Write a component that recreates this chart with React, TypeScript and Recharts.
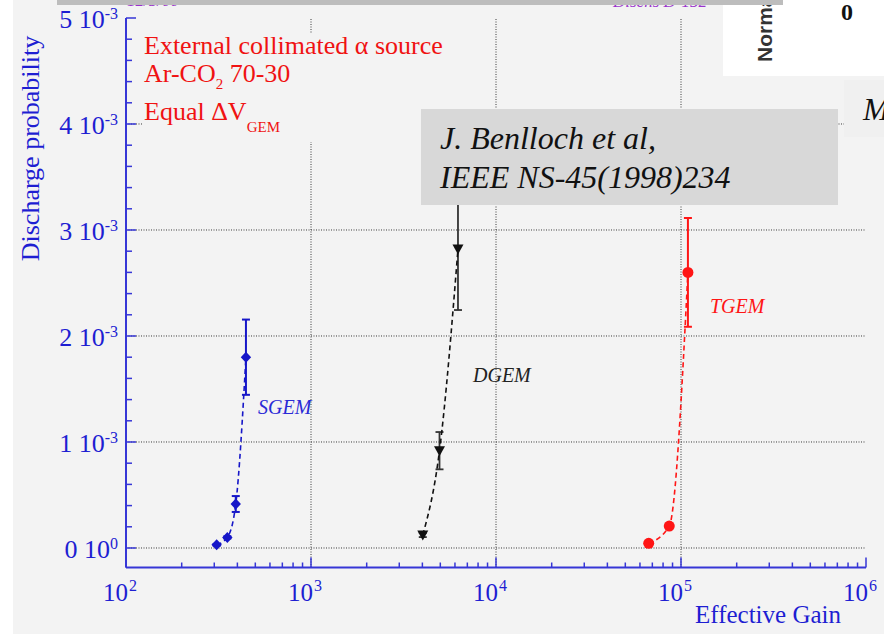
import React from 'react';
import { ComposedChart, Line, XAxis, YAxis, ReferenceLine, ErrorBar } from 'recharts';

// values: effective gain vs discharge probability
const sgemGain = [309, 353, 392, 445];
const sgemProb = [0.00003, 0.0001, 0.000415, 0.0018];
const sgemErr = [0.000008, 0.00001, 0.000075, 0.000355];

const dgemGain = [4020, 4950, 6230];
const dgemProb = [0.000123, 0.000918, 0.00282];
const dgemErr = [0.00002, 0.000176, 0.000575];

const tgemGain = [66900, 86400, 109000];
const tgemProb = [0.000044, 0.000207, 0.0026];
const tgemErr = [0, 0, 0.000513];

const xMajorTicks = [1e2, 1e3, 1e4, 1e5, 1e6];
const xExponents = ['2', '3', '4', '5', '6'];
const xGridLines = [1e3, 1e4, 1e5];

const yMajorTicks = [0, 0.001, 0.002, 0.003, 0.004, 0.005];
const yMantissa = ['0', '1', '2', '3', '4', '5'];
const yExponents = ['0', '-3', '-3', '-3', '-3', '-3'];
const yGridLines = [0, 0.001, 0.002, 0.003, 0.004];

const xTicks = [
  ...xMajorTicks,
  ...xMajorTicks.slice(0, -1).flatMap((d) => [2, 3, 4, 5, 6, 7, 8, 9].map((m) => m * d)),
].sort((a, b) => a - b);
const yTicks = Array.from({ length: 26 }, (_, i) => Number((i * 0.0002).toFixed(4)));

const toPoints = (gain: number[], prob: number[], err: number[]) =>
  gain.map((x, i) => ({ x, y: prob[i], err: err[i] }));

const sgem = toPoints(sgemGain, sgemProb, sgemErr);
const dgem = toPoints(dgemGain, dgemProb, dgemErr);
const tgem = toPoints(tgemGain, tgemProb, tgemErr);

const BG = '#f3f3f3';
const AXIS = '#3636d6';
const TEXT = '#1e1ed2';
const SGEM_C = '#1616c8';
const DGEM_C = '#111111';
const TGEM_C = '#ff1515';
const RED_TXT = '#f01212';
const GRID = '#3a3a3a';
const SERIF = '"Liberation Serif", "Times New Roman", serif';
const SANS = '"Liberation Sans", Arial, sans-serif';

const majorX = (v: number) => xMajorTicks.findIndex((t) => Math.abs(t - v) < 1e-6);
const majorY = (v: number) => yMajorTicks.findIndex((t) => Math.abs(t - v) < 1e-9);

const BottomTick = (props: any) => {
  const { x, y, payload } = props;
  const i = majorX(payload.value);
  return (
    <g>
      <line x1={x} y1={y} x2={x} y2={y - (i >= 0 ? 10 : 5)} stroke={AXIS} strokeWidth={1.5} />
      {i >= 0 && (
        <>
          <text x={x + 2} y={y + 33} textAnchor="end" fill={TEXT} fontSize={25} fontFamily={SERIF}>
            10
          </text>
          <text x={x + 3} y={y + 23} fill={TEXT} fontSize={16} fontFamily={SERIF}>
            {xExponents[i]}
          </text>
        </>
      )}
    </g>
  );
};

const TopTick = (props: any) => {
  const { x, y, payload } = props;
  const i = majorX(payload.value);
  return <line x1={x} y1={y} x2={x} y2={y + (i >= 0 ? 10 : 6)} stroke={AXIS} strokeWidth={1.5} />;
};

const LeftTick = (props: any) => {
  const { x, y, payload } = props;
  const i = majorY(payload.value);
  return (
    <g>
      <line x1={x} y1={y} x2={x + (i >= 0 ? 10 : 6)} y2={y} stroke={AXIS} strokeWidth={1.5} />
      {i >= 0 && (
        <text x={x - 8} y={y + 10} textAnchor="end" fill={TEXT} fontSize={26} fontFamily={SERIF}>
          {yMantissa[i]} 10
          <tspan dy={-9} fontSize={16}>
            {yExponents[i]}
          </tspan>
        </text>
      )}
    </g>
  );
};

const RightTick = (props: any) => {
  const { x, y, payload } = props;
  const i = majorY(payload.value);
  return <line x1={x} y1={y} x2={x - (i >= 0 ? 10 : 5)} y2={y} stroke={AXIS} strokeWidth={1.5} />;
};

const Diamond = (props: any) => {
  const { cx, cy, index } = props;
  return (
    <path
      key={`sg-${index}`}
      d={`M${cx},${cy - 5.5} L${cx + 5.2},${cy} L${cx},${cy + 5.5} L${cx - 5.2},${cy} Z`}
      fill={SGEM_C}
    />
  );
};

const TriangleDown = (props: any) => {
  const { cx, cy, index } = props;
  return (
    <path
      key={`dg-${index}`}
      d={`M${cx - 5.5},${cy - 4.5} L${cx + 5.5},${cy - 4.5} L${cx},${cy + 5.5} Z`}
      fill={DGEM_C}
    />
  );
};

const RedDot = (props: any) => {
  const { cx, cy, index } = props;
  return <circle key={`tg-${index}`} cx={cx} cy={cy} r={5.5} fill={TGEM_C} />;
};

const App: React.FC = () => {
  return (
    <div style={{ position: 'fixed', left: 0, top: 0, width: 884, height: 634, background: '#ffffff' }}>
      <div style={{ position: 'absolute', left: 13, top: 0, width: 871, height: 634, background: BG }} />
      <div style={{ position: 'absolute', left: 0, top: 0 }}>
        <ComposedChart width={884} height={634} margin={{ top: 18, right: 18, bottom: 0, left: 0 }}>
          <XAxis
            xAxisId="bottom"
            dataKey="x"
            type="number"
            scale="log"
            domain={[100, 1000000]}
            allowDataOverflow
            ticks={xTicks}
            interval={0}
            height={66.5}
            tickSize={0}
            tickMargin={0}
            tickLine={false}
            axisLine={{ stroke: AXIS, strokeWidth: 2 }}
            tick={BottomTick}
          />
          <XAxis
            xAxisId="top"
            orientation="top"
            dataKey="x"
            type="number"
            scale="log"
            domain={[100, 1000000]}
            allowDataOverflow
            ticks={xTicks}
            interval={0}
            height={0}
            tickSize={0}
            tickMargin={0}
            tickLine={false}
            axisLine={{ stroke: AXIS, strokeWidth: 2 }}
            tick={TopTick}
          />
          <YAxis
            yAxisId="left"
            type="number"
            domain={[-0.000184, 0.005]}
            allowDataOverflow
            ticks={yTicks}
            interval={0}
            width={126}
            tickSize={0}
            tickMargin={0}
            tickLine={false}
            axisLine={{ stroke: AXIS, strokeWidth: 2 }}
            tick={LeftTick}
          />
          <YAxis
            yAxisId="right"
            orientation="right"
            type="number"
            domain={[-0.000184, 0.005]}
            allowDataOverflow
            ticks={yTicks}
            interval={0}
            width={0}
            tickSize={0}
            tickMargin={0}
            tickLine={false}
            axisLine={{ stroke: AXIS, strokeWidth: 2 }}
            tick={RightTick}
          />

          {xGridLines.map((v) => (
            <ReferenceLine key={`gx-${v}`} x={v} xAxisId="bottom" yAxisId="left" stroke={GRID} strokeDasharray="1 1.5" />
          ))}
          {yGridLines.map((v) => (
            <ReferenceLine key={`gy-${v}`} y={v} xAxisId="bottom" yAxisId="left" stroke={GRID} strokeDasharray="1 1.5" />
          ))}

          <Line
            data={sgem}
            dataKey="y"
            xAxisId="bottom"
            yAxisId="left"
            type="monotone"
            stroke={SGEM_C}
            strokeWidth={1.6}
            strokeDasharray="5 3.5"
            dot={Diamond}
            activeDot={false}
            isAnimationActive={false}
          >
            <ErrorBar dataKey="err" direction="y" width={4} stroke={SGEM_C} strokeWidth={2} />
          </Line>
          <Line
            data={dgem}
            dataKey="y"
            xAxisId="bottom"
            yAxisId="left"
            type="monotone"
            stroke={DGEM_C}
            strokeWidth={1.6}
            strokeDasharray="5 3.5"
            dot={TriangleDown}
            activeDot={false}
            isAnimationActive={false}
          >
            <ErrorBar dataKey="err" direction="y" width={4} stroke="#333" strokeWidth={1.8} />
          </Line>
          <Line
            data={tgem}
            dataKey="y"
            xAxisId="bottom"
            yAxisId="left"
            type="monotone"
            stroke={TGEM_C}
            strokeWidth={1.6}
            strokeDasharray="5 3.5"
            dot={RedDot}
            activeDot={false}
            isAnimationActive={false}
          >
            <ErrorBar dataKey="err" direction="y" width={4} stroke={TGEM_C} strokeWidth={2} />
          </Line>
        </ComposedChart>
      </div>

      <svg width={884} height={634} style={{ position: 'absolute', left: 0, top: 0, pointerEvents: 'none' }}>
        {/* pieces of the overlapping slide */}
        <rect x={723} y={0} width={161} height={76} fill="#ffffff" />
        <text
          transform="translate(772,62) rotate(-90)"
          fill="#333"
          fontSize={21}
          fontWeight="bold"
          fontFamily={SANS}
        >
          Normalized
        </text>
        <text x={841} y={20} fill="#111" fontSize={24} fontWeight="bold" fontFamily={SERIF}>
          0
        </text>
        <rect x={844} y={80} width={40} height={57} fill="#f0f0f0" />
        <text x={863} y={120} fill="#111" fontSize={32} fontStyle="italic" fontFamily={SERIF}>
          M
        </text>

        {/* cut-off slide header */}
        <text x={127} y={6} fill="#9a32cc" fontSize={17} fontStyle="italic" fontFamily={SERIF}>
          12/5/00
        </text>
        <text x={613} y={7} fill="#9a32cc" fontSize={17} fontStyle="italic" fontFamily={SERIF}>
          Dischs D-152
        </text>
        <rect x={57} y={0} width={726} height={5} fill="#bdbdbd" />

        {/* conditions */}
        <rect x={143} y={33} width={280} height={109} fill={BG} />
        <text x={144} y={54} fill={RED_TXT} fontSize={26} fontFamily={SERIF}>
          External collimated α source
        </text>
        <text x={144} y={82} fill={RED_TXT} fontSize={26} fontFamily={SERIF}>
          Ar-CO
          <tspan dy={7} fontSize={15}>2</tspan>
          <tspan dy={-7}> 70-30</tspan>
        </text>
        <text x={144} y={120} fill={RED_TXT} fontSize={26} fontFamily={SERIF}>
          Equal ΔV
          <tspan dy={12} fontSize={15}>GEM</tspan>
        </text>

        {/* series labels */}
        <text x={258} y={414} fill="#2a2ad6" fontSize={20} fontStyle="italic" fontFamily={SERIF}>
          SGEM
        </text>
        <text x={473} y={382} fill="#222" fontSize={20} fontStyle="italic" fontFamily={SERIF}>
          DGEM
        </text>
        <text x={710} y={313} fill={TGEM_C} fontSize={20} fontStyle="italic" fontFamily={SERIF}>
          TGEM
        </text>

        {/* reference box */}
        <rect x={421} y={109} width={417} height={96} fill="#d8d8d8" />
        <text x={440} y={149} fill="#111" fontSize={32} fontStyle="italic" fontFamily={SERIF}>
          J. Benlloch et al,
        </text>
        <text x={440} y={188} fill="#111" fontSize={32} fontStyle="italic" fontFamily={SERIF}>
          IEEE NS-45(1998)234
        </text>

        {/* axis titles */}
        <text
          transform="translate(39,148.5) rotate(-90)"
          textAnchor="middle"
          fill={TEXT}
          fontSize={26}
          fontFamily={SERIF}
        >
          Discharge probability
        </text>
        <text x={841} y={623} textAnchor="end" fill={TEXT} fontSize={25} fontFamily={SERIF}>
          Effective Gain
        </text>
      </svg>
    </div>
  );
};

export default App;
